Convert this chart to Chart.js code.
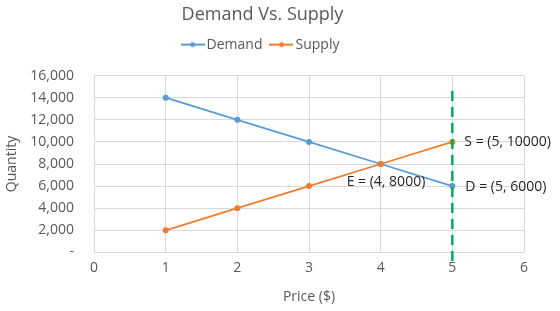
<!DOCTYPE html>
<html>
<head>
<meta charset="utf-8">
<script src="https://cdn.jsdelivr.net/npm/chart.js@4"></script>
<style>
  html, body { margin: 0; padding: 0; background: #fff; }
  #wrap { width: 560px; height: 311px; }
</style>
</head>
<body>
<div id="wrap"><canvas id="grafico" width="560" height="311"></canvas></div>
<script>
// dados
const precos = [1, 2, 3, 4, 5];
const demanda = [14000, 12000, 10000, 8000, 6000];
const oferta = [2000, 4000, 6000, 8000, 10000];
const linhaX = [5, 5];           // linha vertical tracejada em x = 5
const linhaY = [14600, -900];
const rotulos = [
    { x: 5, y: 10000, texto: 'S = (5, 10000)', dx: 12, dy: 0 },
    { x: 4, y: 8000, texto: 'E = (4, 8000)', dx: -34, dy: 18 },
    { x: 5, y: 6000, texto: 'D = (5, 6000)', dx: 13, dy: 1 }
];

const fonte = "'Open Sans', 'Noto Sans', sans-serif";
const cinza = '#595959';

function iconeLegenda(cor) {
    const c = document.createElement('canvas');
    c.width = 24; c.height = 8;
    const g = c.getContext('2d');
    g.strokeStyle = cor; g.lineWidth = 2;
    g.beginPath(); g.moveTo(0, 4); g.lineTo(24, 4); g.stroke();
    g.fillStyle = cor;
    g.beginPath(); g.arc(12, 4, 2.5, 0, Math.PI * 2); g.fill();
    return c;
}

const pontos = (xs, ys) => xs.map((x, i) => ({ x: x, y: ys[i] }));

// plugin para os rótulos de texto
const rotulosPlugin = {
    id: 'rotulos',
    afterDatasetsDraw(chart) {
        const ctx = chart.ctx;
        const sx = chart.scales.x, sy = chart.scales.y;
        ctx.save();
        ctx.font = '14px ' + fonte;
        ctx.fillStyle = '#262626';
        ctx.textBaseline = 'middle';
        ctx.textAlign = 'left';
        rotulos.forEach(r => {
            ctx.fillText(r.texto, sx.getPixelForValue(r.x) + r.dx, sy.getPixelForValue(r.y) + r.dy);
        });
        ctx.restore();
    }
};

// espaço extra abaixo da legenda
const espacoLegenda = {
    id: 'espacoLegenda',
    afterInit(chart) {
        const leg = chart.legend;
        const fitOrig = leg.fit;
        leg.fit = function () {
            fitOrig.call(this);
            this.height += 14;
        };
    }
};

const config = {
    type: 'scatter',
    data: {
        datasets: [{
            label: 'Demand',
            data: pontos(precos, demanda),
            showLine: true,
            borderColor: '#5B9BD5',
            backgroundColor: '#5B9BD5',
            borderWidth: 1.75,
            pointRadius: 3,
            pointBorderWidth: 0,
            order: 2
        }, {
            label: 'Supply',
            data: pontos(precos, oferta),
            showLine: true,
            borderColor: '#ED7D31',
            backgroundColor: '#ED7D31',
            borderWidth: 1.75,
            pointRadius: 3,
            pointBorderWidth: 0,
            order: 1
        }, {
            label: 'linha',
            data: pontos(linhaX, linhaY),
            showLine: true,
            borderColor: '#00B050',
            borderWidth: 2.5,
            borderDash: [10, 6],
            pointRadius: 0,
            clip: false,
            order: 0
        }]
    },
    options: {
        responsive: false,
        animation: false,
        layout: { padding: { left: 1, right: 36, top: 4, bottom: 6 } },
        plugins: {
            title: {
                display: true,
                text: 'Demand Vs. Supply',
                color: cinza,
                font: { family: fonte, size: 18, weight: 'normal' },
                padding: { top: 0, bottom: 0 }
            },
            legend: {
                display: true,
                position: 'top',
                labels: {
                    color: cinza,
                    font: { family: fonte, size: 14 },
                    usePointStyle: true,
                    boxWidth: 24,
                    boxHeight: 8,
                    padding: 12,
                    filter: item => item.text !== 'linha',
                    generateLabels(chart) {
                        return chart.data.datasets.map((ds, i) => ({
                            text: ds.label,
                            pointStyle: iconeLegenda(ds.borderColor),
                            fillStyle: ds.borderColor,
                            strokeStyle: ds.borderColor,
                            lineWidth: 0,
                            fontColor: cinza,
                            hidden: false,
                            datasetIndex: i
                        }));
                    }
                }
            },
            tooltip: { enabled: false }
        },
        scales: {
            x: {
                type: 'linear',
                min: 0,
                max: 6,
                ticks: { stepSize: 1, color: cinza, font: { family: fonte, size: 14 }, padding: 7 },
                grid: { color: '#d9d9d9', drawTicks: false },
                border: { color: '#d9d9d9' },
                title: { display: true, text: 'Price ($)', color: cinza, font: { family: fonte, size: 14 }, padding: { top: 5, bottom: 0 } }
            },
            y: {
                min: 0,
                max: 16000,
                ticks: {
                    stepSize: 2000,
                    color: cinza,
                    font: { family: fonte, size: 14 },
                    padding: 20,
                    callback: v => v === 0 ? '-' : v.toLocaleString('en-US')
                },
                grid: { color: '#d9d9d9', drawTicks: false },
                border: { color: '#d9d9d9' },
                title: { display: true, text: 'Quantity', color: cinza, font: { family: fonte, size: 14 }, padding: { top: 3, bottom: 0 } },
                afterFit(scale) { scale.width = 93; }
            }
        }
    },
    plugins: [rotulosPlugin, espacoLegenda]
};

new Chart(document.getElementById('grafico').getContext('2d'), config);
</script>
</body>
</html>
